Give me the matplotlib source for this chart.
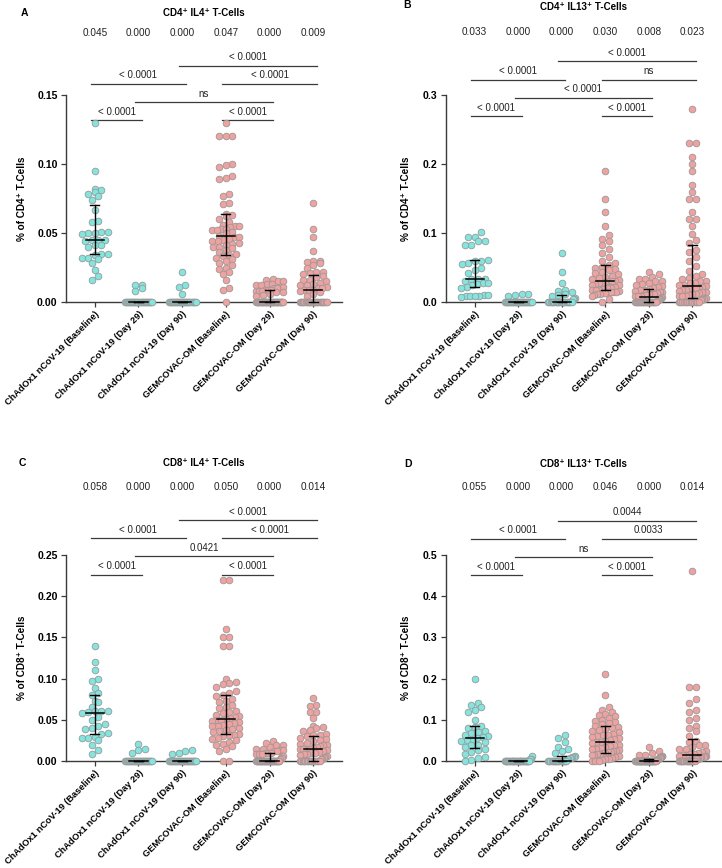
import numpy as np
import matplotlib
matplotlib.use("Agg")
import matplotlib.pyplot as plt
from matplotlib.transforms import blended_transform_factory

plt.rcParams['font.family'] = ['Liberation Sans', 'DejaVu Sans']

groups = ["ChAdOx1 nCoV-19 (Baseline)", "ChAdOx1 nCoV-19 (Day 29)", "ChAdOx1 nCoV-19 (Day 90)",
          "GEMCOVAC-OM (Baseline)", "GEMCOVAC-OM (Day 29)", "GEMCOVAC-OM (Day 90)"]

# ---- A: CD4+ IL4+ ----
a_chad_base = [0.130, 0.095, 0.082, 0.081, 0.080, 0.078, 0.077, 0.074, 0.067, 0.059, 0.058, 0.051, 0.051,
               0.050, 0.050, 0.049, 0.045, 0.045, 0.045, 0.044, 0.041, 0.041, 0.040, 0.035, 0.035, 0.034,
               0.032, 0.032, 0.031, 0.028, 0.023, 0.019, 0.016]
a_chad_d29 = [0.012, 0.012, 0.010, 0.008] + [0.0] * 27
a_chad_d90 = [0.022, 0.012, 0.011, 0.006] + [0.0] * 27
a_gem_base = [0.130, 0.120, 0.120, 0.120, 0.100, 0.099, 0.098, 0.091, 0.090, 0.089, 0.078, 0.077, 0.072,
              0.071, 0.064, 0.063, 0.062, 0.060, 0.058, 0.056, 0.055, 0.055, 0.054, 0.053, 0.053, 0.052,
              0.052, 0.051, 0.050, 0.048, 0.047, 0.047, 0.046, 0.045, 0.044, 0.044, 0.043, 0.042, 0.041,
              0.040, 0.040, 0.039, 0.038, 0.036, 0.035, 0.034, 0.033, 0.032, 0.031, 0.030, 0.028, 0.027,
              0.025, 0.024, 0.022, 0.020, 0.016, 0.010, 0.009, 0.000]
a_gem_d29 = [0.017, 0.016, 0.015, 0.015, 0.013, 0.013, 0.012, 0.012, 0.011, 0.011, 0.010, 0.010, 0.009,
             0.009, 0.009, 0.008, 0.008, 0.008, 0.007, 0.007, 0.006, 0.005, 0.004] + [0.0] * 35
a_gem_d90 = [0.072, 0.053, 0.047, 0.037, 0.030, 0.030, 0.029, 0.028, 0.027, 0.025, 0.022, 0.022, 0.021,
             0.020, 0.019, 0.018, 0.016, 0.016, 0.015, 0.014, 0.013, 0.012, 0.012, 0.011, 0.010, 0.010,
             0.009, 0.009, 0.009, 0.008, 0.007, 0.006, 0.004] + [0.0] * 24
a_medians = ["0.045", "0.000", "0.000", "0.047", "0.000", "0.009"]
a_pvals = ["< 0.0001", "< 0.0001", "ns", "< 0.0001", "< 0.0001", "< 0.0001"]

# ---- B: CD4+ IL13+ ----
b_chad_base = [0.101, 0.094, 0.094, 0.089, 0.089, 0.083, 0.082, 0.061, 0.060, 0.060, 0.056, 0.055, 0.049,
               0.047, 0.042, 0.034, 0.033, 0.033, 0.030, 0.027, 0.027, 0.026, 0.025, 0.022, 0.021, 0.010,
               0.010, 0.009, 0.008, 0.008, 0.008, 0.007]
b_chad_d29 = [0.012, 0.011, 0.010, 0.008] + [0.0] * 28
b_chad_d90 = [0.071, 0.044, 0.028, 0.018, 0.016, 0.015, 0.012, 0.010, 0.008, 0.006, 0.005, 0.004] + [0.0] * 20
b_gem_base = [0.190, 0.150, 0.130, 0.110, 0.097, 0.092, 0.088, 0.082, 0.077, 0.071, 0.065, 0.060, 0.057,
              0.054, 0.051, 0.050, 0.048, 0.046, 0.044, 0.042, 0.040, 0.038, 0.036, 0.035, 0.033, 0.032,
              0.031, 0.030, 0.030, 0.029, 0.028, 0.027, 0.026, 0.025, 0.024, 0.022, 0.021, 0.020, 0.019,
              0.018, 0.017, 0.017, 0.016, 0.015, 0.015, 0.014, 0.014, 0.013, 0.013, 0.012, 0.011, 0.010,
              0.009, 0.005, 0.000]
b_gem_d29 = [0.044, 0.040, 0.036, 0.033, 0.033, 0.030, 0.030, 0.027, 0.026, 0.024, 0.023, 0.022, 0.020,
             0.019, 0.018, 0.017, 0.016, 0.015, 0.014, 0.013, 0.012, 0.012, 0.011, 0.010, 0.010, 0.009,
             0.008, 0.008, 0.007, 0.006, 0.005, 0.004, 0.003, 0.002] + [0.0] * 22
b_gem_d90 = [0.280, 0.230, 0.230, 0.210, 0.200, 0.190, 0.170, 0.160, 0.150, 0.150, 0.130, 0.120, 0.120,
             0.110, 0.099, 0.090, 0.086, 0.075, 0.073, 0.065, 0.060, 0.052, 0.045, 0.040, 0.038, 0.035,
             0.033, 0.031, 0.030, 0.028, 0.027, 0.025, 0.024, 0.023, 0.022, 0.021, 0.020, 0.020, 0.019,
             0.018, 0.017, 0.016, 0.015, 0.014, 0.013, 0.012, 0.011, 0.010, 0.009, 0.008, 0.008, 0.006,
             0.005, 0.004, 0.003] + [0.0] * 13
b_medians = ["0.033", "0.000", "0.000", "0.030", "0.008", "0.023"]
b_pvals = ["< 0.0001", "< 0.0001", "< 0.0001", "< 0.0001", "ns", "< 0.0001"]

# ---- C: CD8+ IL4+ ----
c_chad_base = [0.140, 0.120, 0.110, 0.100, 0.097, 0.088, 0.082, 0.080, 0.073, 0.072, 0.066, 0.061, 0.061,
               0.061, 0.060, 0.058, 0.054, 0.050, 0.045, 0.042, 0.040, 0.039, 0.034, 0.033, 0.029, 0.028,
               0.028, 0.025, 0.019, 0.013, 0.008]
c_chad_d29 = [0.021, 0.015, 0.013, 0.010] + [0.0] * 28
c_chad_d90 = [0.013, 0.012, 0.010, 0.009] + [0.0] * 28
c_gem_base = [0.220, 0.220, 0.160, 0.150, 0.150, 0.140, 0.140, 0.100, 0.096, 0.095, 0.094, 0.090, 0.085,
              0.083, 0.080, 0.079, 0.075, 0.073, 0.071, 0.068, 0.066, 0.064, 0.061, 0.060, 0.058, 0.056,
              0.055, 0.054, 0.052, 0.051, 0.050, 0.050, 0.049, 0.047, 0.046, 0.045, 0.044, 0.043, 0.042,
              0.040, 0.039, 0.038, 0.036, 0.035, 0.033, 0.032, 0.031, 0.030, 0.028, 0.027, 0.025, 0.023,
              0.021, 0.020, 0.018, 0.015, 0.012, 0.000, 0.000]
c_gem_d29 = [0.024, 0.022, 0.019, 0.019, 0.017, 0.015, 0.015, 0.013, 0.013, 0.012, 0.012, 0.010, 0.010,
             0.010, 0.008, 0.008, 0.008, 0.006, 0.006, 0.004, 0.004, 0.002] + [0.0] * 34
c_gem_d90 = [0.077, 0.068, 0.067, 0.060, 0.059, 0.052, 0.043, 0.041, 0.040, 0.038, 0.036, 0.033, 0.032,
             0.031, 0.030, 0.028, 0.027, 0.025, 0.024, 0.022, 0.021, 0.020, 0.019, 0.018, 0.017, 0.016,
             0.015, 0.015, 0.014, 0.014, 0.013, 0.012, 0.011, 0.010, 0.010, 0.009, 0.008, 0.007, 0.006,
             0.005, 0.004, 0.003, 0.002] + [0.0] * 15
c_medians = ["0.058", "0.000", "0.000", "0.050", "0.000", "0.014"]
c_pvals = ["< 0.0001", "< 0.0001", "0.0421", "< 0.0001", "< 0.0001", "< 0.0001"]

# ---- D: CD8+ IL13+ ----
d_chad_base = [0.200, 0.140, 0.135, 0.130, 0.125, 0.120, 0.100, 0.085, 0.082, 0.080, 0.074, 0.070, 0.068,
               0.062, 0.060, 0.058, 0.055, 0.052, 0.050, 0.048, 0.045, 0.040, 0.038, 0.033, 0.030, 0.027,
               0.022, 0.018, 0.010, 0.008, 0.002, 0.000]
d_chad_d29 = [0.012, 0.006, 0.005] + [0.0] * 29
d_chad_d90 = [0.063, 0.055, 0.045, 0.035, 0.030, 0.025, 0.020, 0.012, 0.010, 0.010, 0.009, 0.008, 0.007,
              0.005, 0.004] + [0.0] * 17
d_gem_base = [0.210, 0.160, 0.130, 0.125, 0.120, 0.115, 0.112, 0.110, 0.105, 0.100, 0.098, 0.095, 0.092,
              0.090, 0.085, 0.082, 0.080, 0.078, 0.075, 0.072, 0.070, 0.066, 0.064, 0.062, 0.060, 0.058,
              0.055, 0.053, 0.050, 0.048, 0.046, 0.045, 0.043, 0.040, 0.038, 0.036, 0.034, 0.032, 0.030,
              0.028, 0.026, 0.025, 0.024, 0.022, 0.021, 0.020, 0.019, 0.018, 0.016, 0.015, 0.014, 0.012,
              0.010, 0.008, 0.006, 0.004, 0.002, 0.000, 0.000, 0.000]
d_gem_d29 = [0.035, 0.025, 0.020, 0.015, 0.014, 0.012, 0.011, 0.010, 0.010, 0.009, 0.008, 0.008, 0.006,
             0.005, 0.005, 0.003, 0.002] + [0.0] * 38
d_gem_d90 = [0.460, 0.180, 0.180, 0.150, 0.140, 0.125, 0.120, 0.105, 0.100, 0.085, 0.080, 0.072, 0.060,
             0.048, 0.045, 0.040, 0.038, 0.035, 0.030, 0.028, 0.025, 0.022, 0.020, 0.018, 0.016, 0.015,
             0.014, 0.013, 0.012, 0.011, 0.010, 0.010, 0.009, 0.008, 0.008, 0.006, 0.005, 0.004] + [0.0] * 15
d_medians = ["0.055", "0.000", "0.000", "0.046", "0.000", "0.014"]
d_pvals = ["< 0.0001", "< 0.0001", "ns", "< 0.0001", "0.0033", "0.0044"]

# pairs compared, in the same order as the p-value lists
pairs = [(0, 1), (3, 4), (1, 4), (0, 2), (3, 5), (2, 5)]
tiers = [0, 0, 1, 2, 2, 3]

CYAN = "#7FE7DF"
SALMON = "#F2A19F"
W, H = 722, 868

panels = [
    dict(letter="A", title="CD4⁺ IL4⁺ T-Cells", ylabel="% of CD4⁺ T-Cells",
         data=[a_chad_base, a_chad_d29, a_chad_d90, a_gem_base, a_gem_d29, a_gem_d90],
         medians=a_medians, pvals=a_pvals, ymax=0.15, yticks=[0, 0.05, 0.10, 0.15], fmt="%.2f",
         px=(66, 95, 276, 207), base=0.878, med_y=1.30, title_y=1.396, letter_xy=(21, 13), ylab_x=-0.142),
    dict(letter="B", title="CD4⁺ IL13⁺ T-Cells", ylabel="% of CD4⁺ T-Cells",
         data=[b_chad_base, b_chad_d29, b_chad_d90, b_gem_base, b_gem_d29, b_gem_d90],
         medians=b_medians, pvals=b_pvals, ymax=0.3, yticks=[0, 0.1, 0.2, 0.3], fmt="%.1f",
         px=(446, 95, 275, 207), base=0.898, med_y=1.303, title_y=1.424, letter_xy=(403, 5), ylab_x=-0.127),
    dict(letter="C", title="CD8⁺ IL4⁺ T-Cells", ylabel="% of CD8⁺ T-Cells",
         data=[c_chad_base, c_chad_d29, c_chad_d90, c_gem_base, c_gem_d29, c_gem_d90],
         medians=c_medians, pvals=c_pvals, ymax=0.25, yticks=[0, 0.05, 0.10, 0.15, 0.20, 0.25], fmt="%.2f",
         px=(66, 555, 276, 206), base=0.905, med_y=1.332, title_y=1.448, letter_xy=(19, 463), ylab_x=-0.142),
    dict(letter="D", title="CD8⁺ IL13⁺ T-Cells", ylabel="% of CD8⁺ T-Cells",
         data=[d_chad_base, d_chad_d29, d_chad_d90, d_gem_base, d_gem_d29, d_gem_d90],
         medians=d_medians, pvals=d_pvals, ymax=0.5, yticks=[0, 0.1, 0.2, 0.3, 0.4, 0.5], fmt="%.1f",
         px=(446, 555, 275, 206), base=0.902, med_y=1.328, title_y=1.442, letter_xy=(404, 464), ylab_x=-0.127),
]


def swarm(vals, ymax, h_px, unit_px, d=6.6, half_w=13.5):
    # rows of near-equal values laid side by side, squeezed to the column width
    ypx = np.asarray(vals, dtype=float) / ymax * h_px
    order = np.argsort(ypx, kind="stable")
    offs = np.zeros(len(ypx))
    rows, cur = [], [order[0]]
    for idx in order[1:]:
        if ypx[idx] - ypx[cur[0]] < d * 0.8:
            cur.append(idx)
        else:
            rows.append(cur)
            cur = [idx]
    rows.append(cur)
    for r in rows:
        n = len(r)
        if n == 1:
            continue
        step = min(d, 2 * half_w / (n - 1))
        offs[r] = (np.arange(n) - (n - 1) / 2) * step / unit_px
    return offs


fig = plt.figure(figsize=(W / 100, H / 100), dpi=100)
xlo, xhi = -0.66, 5.66

for p in panels:
    x0, y0, w, h = p["px"]
    ax = fig.add_axes([x0 / W, 1 - (y0 + h) / H, w / W, h / H])
    ax.set_xlim(xlo, xhi)
    ax.set_ylim(0, p["ymax"])
    unit_px = w / (xhi - xlo)

    for k, vals in enumerate(p["data"]):
        col = CYAN if k < 3 else SALMON
        xs = k + swarm(vals, p["ymax"], h, unit_px)
        ax.scatter(xs, vals, s=23, c=col, edgecolors="#999999", linewidths=0.6, clip_on=False, zorder=3)
        q1, med, q3 = np.percentile(vals, [25, 50, 75], method="weibull")
        ax.plot([k - 0.21, k + 0.21], [med, med], color="black", lw=1.1, zorder=4, clip_on=False)
        ax.plot([k, k], [q1, q3], color="black", lw=1.0, zorder=4, clip_on=False)
        for q in (q1, q3):
            ax.plot([k - 0.1, k + 0.1], [q, q], color="black", lw=1.0, zorder=4, clip_on=False)

    tr = blended_transform_factory(ax.transData, ax.transAxes)
    for (i, j), t, lab in zip(pairs, tiers, p["pvals"]):
        yb = p["base"] + 0.088 * t
        ax.plot([i - 0.08, j + 0.08], [yb, yb], color="#3a3a3a", lw=0.9, transform=tr, clip_on=False)
        ax.annotate(lab, xy=((i + j) / 2, yb), xycoords=tr, xytext=(0, 2.5), textcoords="offset points",
                    ha="center", va="bottom", fontsize=7, color="#222222")

    for k, m in enumerate(p["medians"]):
        ax.text(k, p["med_y"], m, transform=tr, ha="center", va="center", fontsize=7.2, color="#222222")

    ax.text(0.5, p["title_y"], p["title"], transform=ax.transAxes, ha="center", va="center",
            fontsize=7, fontweight="bold")
    fig.text(p["letter_xy"][0] / W, 1 - p["letter_xy"][1] / H, p["letter"], ha="left", va="center",
             fontsize=7.5, fontweight="bold")

    ax.set_ylabel(p["ylabel"], fontsize=7.2, fontweight="bold")
    ax.yaxis.set_label_coords(p["ylab_x"], 0.5)
    ax.set_yticks(p["yticks"])
    ax.set_yticklabels([p["fmt"] % v for v in p["yticks"]], fontsize=7.6, fontweight="bold")
    ax.set_xticks(range(len(groups)))
    ax.set_xticklabels(groups, rotation=45, ha="right", rotation_mode="anchor", fontsize=6.7,
                       fontweight="bold")
    ax.tick_params(axis="both", length=3.5, width=0.9, color="#3a3a3a", pad=2.5)
    ax.tick_params(axis="x", pad=1.8)
    for s in ("top", "right"):
        ax.spines[s].set_visible(False)
    for s in ("left", "bottom"):
        ax.spines[s].set_color("#3a3a3a")
        ax.spines[s].set_linewidth(1.0)

fig.savefig("out.png", dpi=100)
